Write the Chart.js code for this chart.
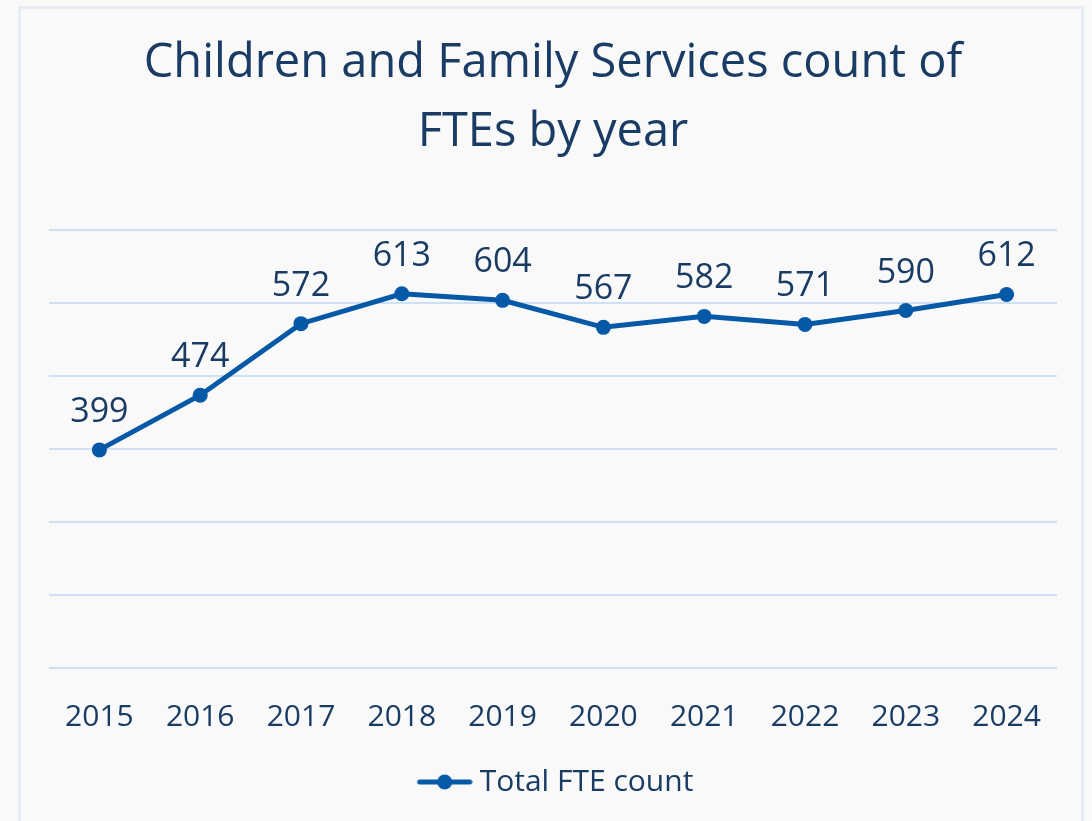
<!DOCTYPE html>
<html>
<head>
<meta charset="utf-8">
<script src="https://cdn.jsdelivr.net/npm/chart.js@4.4.1/dist/chart.umd.min.js"></script>
<style>
    html, body { margin: 0; padding: 0; background: #f9f9f9; }
    #frame {
        position: absolute; left: 18px; top: 6px; width: 1066px; height: 830px;
        border: 3px solid #e6ecf2; box-sizing: border-box;
    }
    #wrap { position: absolute; left: 0; top: 0; width: 1092px; height: 821px; }
</style>
</head>
<body>
<div id="frame"></div>
<div id="wrap"><canvas id="fteChart"></canvas></div>
<script>
// Chart data
const years = ['2015', '2016', '2017', '2018', '2019', '2020', '2021', '2022', '2023', '2024'];
const fteCounts = [399, 474, 572, 613, 604, 567, 582, 571, 590, 612];
const titleLines = ['Children and Family Services count of', 'FTEs by year'];
const seriesName = 'Total FTE count';

const textColor = '#1a3c64';
const lineColor = '#0659a6';
const fontFamily = '"Open Sans", "Noto Sans", sans-serif';

// Legend marker: short line with a dot in the middle (left pad shifts it right a bit)
function makeLegendMarker() {
    const pad = 12;
    const c = document.createElement('canvas');
    c.width = 56 + pad;
    c.height = 16;
    const g = c.getContext('2d');
    g.strokeStyle = lineColor;
    g.lineWidth = 5;
    g.lineCap = 'round';
    g.beginPath();
    g.moveTo(pad + 3, 8);
    g.lineTo(pad + 53, 8);
    g.stroke();
    g.fillStyle = lineColor;
    g.beginPath();
    g.arc(pad + 28, 8, 7.5, 0, Math.PI * 2);
    g.fill();
    return c;
}

// Value labels above points
const pointLabels = {
    id: 'pointLabels',
    afterDatasetsDraw(chart) {
        const ctx = chart.ctx;
        const meta = chart.getDatasetMeta(0);
        ctx.save();
        ctx.fillStyle = textColor;
        ctx.font = '34px ' + fontFamily;
        ctx.textAlign = 'center';
        ctx.textBaseline = 'alphabetic';
        meta.data.forEach((pt, i) => {
            ctx.fillText(chart.data.datasets[0].data[i], pt.x, pt.y - 28);
        });
        ctx.restore();
    }
};

const marker = makeLegendMarker();

new Chart(document.getElementById('fteChart'), {
    type: 'line',
    data: {
        labels: years,
        datasets: [{
            label: seriesName,
            data: fteCounts,
            borderColor: lineColor,
            backgroundColor: lineColor,
            borderWidth: 5,
            pointRadius: 7.5,
            pointHoverRadius: 7.5,
            pointBackgroundColor: lineColor,
            pointBorderWidth: 0,
            tension: 0
        }]
    },
    options: {
        responsive: true,
        maintainAspectRatio: false,
        animation: false,
        layout: {
            padding: { left: 49, right: 35, top: 30, bottom: 14 }
        },
        scales: {
            x: {
                offset: true,
                grid: { display: false },
                border: { display: false },
                ticks: {
                    color: textColor,
                    font: { family: fontFamily, size: 30 },
                    padding: 23
                }
            },
            y: {
                min: 100,
                max: 700,
                ticks: { display: false, stepSize: 100 },
                border: { display: false },
                grid: { color: '#cfe0f4', lineWidth: 2, drawTicks: false }
            }
        },
        plugins: {
            title: {
                display: true,
                text: titleLines,
                color: textColor,
                font: { family: fontFamily, size: 47, weight: 'normal', lineHeight: 1.45 },
                padding: { top: 0, bottom: 64 }
            },
            legend: {
                position: 'bottom',
                labels: {
                    color: textColor,
                    font: { family: fontFamily, size: 30 },
                    usePointStyle: true,
                    pointStyleWidth: 52,
                    padding: 9,
                    generateLabels: (chart) => [{
                        text: seriesName,
                        fontColor: textColor,
                        pointStyle: marker,
                        datasetIndex: 0,
                        lineWidth: 0,
                        hidden: false
                    }]
                }
            },
            tooltip: { enabled: false }
        }
    },
    plugins: [pointLabels]
});
</script>
</body>
</html>
